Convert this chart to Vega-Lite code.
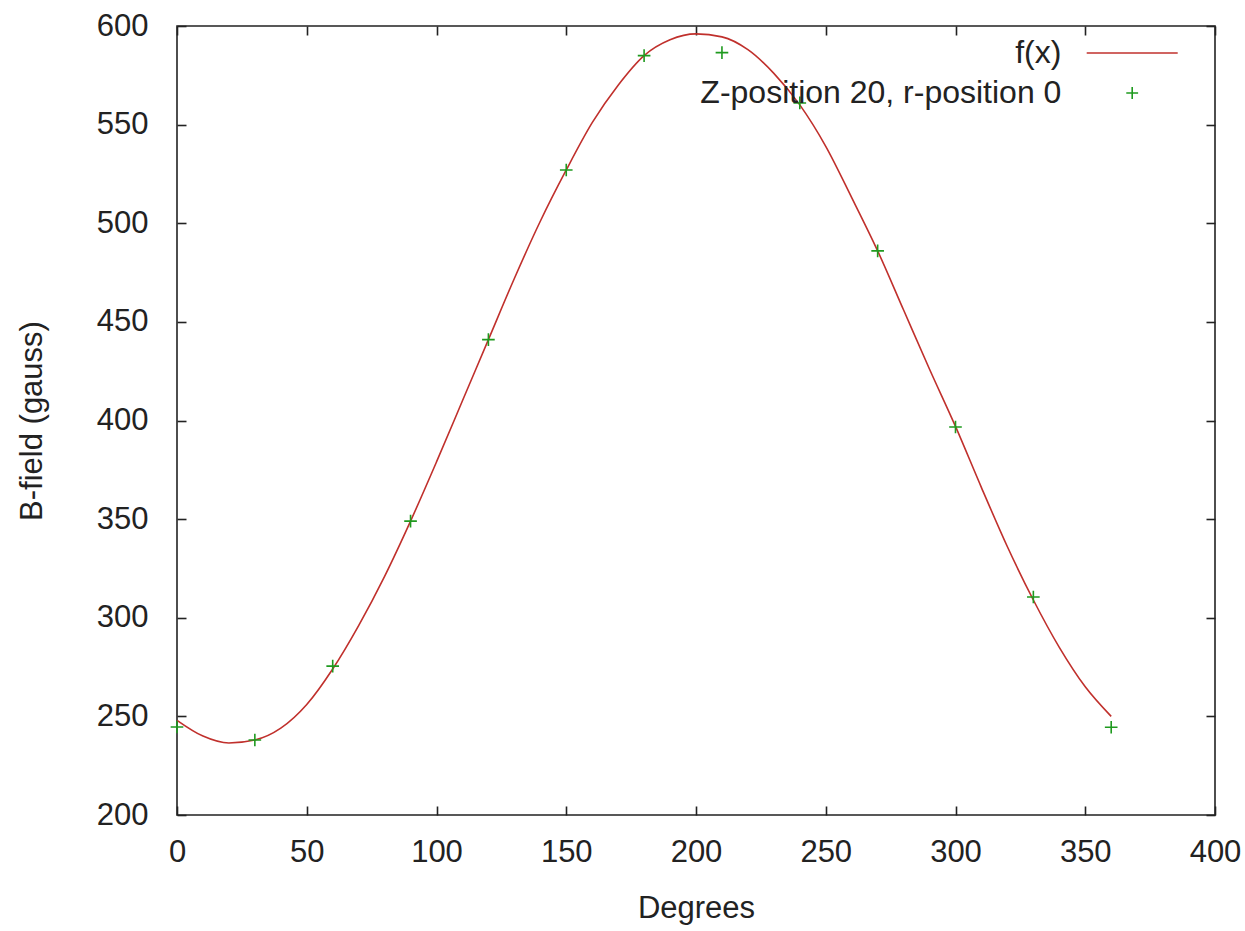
{
  "$schema": "https://vega.github.io/schema/vega-lite/v6.json",
  "width": 1038,
  "height": 789,
  "autosize": {"type": "none"},
  "padding": {"left": 177, "top": 26, "right": 30, "bottom": 116},
  "background": "white",
  "config": {
    "font": "Liberation Sans",
    "view": {"stroke": "#222", "strokeWidth": 1.6},
    "axis": {
      "grid": false,
      "domain": false,
      "tickColor": "#222",
      "tickWidth": 1.6,
      "tickSize": -9,
      "labelFlush": false,
      "labelOverlap": false,
      "labelFont": "Liberation Sans",
      "labelFontSize": 31,
      "labelColor": "#222",
      "titleFont": "Liberation Sans",
      "titleFontSize": 31,
      "titleFontWeight": "normal",
      "titleColor": "#222"
    }
  },
  "datasets": {
    "curve": [
      {"deg": 0, "b": 248, "series": "f(x)"},
      {"deg": 10, "b": 240, "series": "f(x)"},
      {"deg": 20, "b": 236.5, "series": "f(x)"},
      {"deg": 30, "b": 238, "series": "f(x)"},
      {"deg": 40, "b": 244, "series": "f(x)"},
      {"deg": 50, "b": 256, "series": "f(x)"},
      {"deg": 60, "b": 274, "series": "f(x)"},
      {"deg": 70, "b": 296, "series": "f(x)"},
      {"deg": 80, "b": 321, "series": "f(x)"},
      {"deg": 90, "b": 349, "series": "f(x)"},
      {"deg": 100, "b": 379, "series": "f(x)"},
      {"deg": 110, "b": 410, "series": "f(x)"},
      {"deg": 120, "b": 441, "series": "f(x)"},
      {"deg": 130, "b": 472, "series": "f(x)"},
      {"deg": 140, "b": 501, "series": "f(x)"},
      {"deg": 150, "b": 527, "series": "f(x)"},
      {"deg": 160, "b": 551, "series": "f(x)"},
      {"deg": 170, "b": 570, "series": "f(x)"},
      {"deg": 180, "b": 585, "series": "f(x)"},
      {"deg": 190, "b": 593, "series": "f(x)"},
      {"deg": 200, "b": 596, "series": "f(x)"},
      {"deg": 210, "b": 594.5, "series": "f(x)"},
      {"deg": 220, "b": 588, "series": "f(x)"},
      {"deg": 230, "b": 576, "series": "f(x)"},
      {"deg": 240, "b": 560, "series": "f(x)"},
      {"deg": 250, "b": 539, "series": "f(x)"},
      {"deg": 260, "b": 513, "series": "f(x)"},
      {"deg": 270, "b": 486, "series": "f(x)"},
      {"deg": 280, "b": 456, "series": "f(x)"},
      {"deg": 290, "b": 426, "series": "f(x)"},
      {"deg": 300, "b": 397, "series": "f(x)"},
      {"deg": 310, "b": 366, "series": "f(x)"},
      {"deg": 320, "b": 336, "series": "f(x)"},
      {"deg": 330, "b": 309, "series": "f(x)"},
      {"deg": 340, "b": 285, "series": "f(x)"},
      {"deg": 350, "b": 265, "series": "f(x)"},
      {"deg": 360, "b": 250, "series": "f(x)"}
    ],
    "points": [
      {"deg": 0, "b": 244.6, "series": "Z-position 20, r-position 0"},
      {"deg": 30, "b": 238, "series": "Z-position 20, r-position 0"},
      {"deg": 60, "b": 275.5, "series": "Z-position 20, r-position 0"},
      {"deg": 90, "b": 349, "series": "Z-position 20, r-position 0"},
      {"deg": 120, "b": 441, "series": "Z-position 20, r-position 0"},
      {"deg": 150, "b": 527, "series": "Z-position 20, r-position 0"},
      {"deg": 180, "b": 585, "series": "Z-position 20, r-position 0"},
      {"deg": 210, "b": 586.5, "series": "Z-position 20, r-position 0"},
      {"deg": 240, "b": 561, "series": "Z-position 20, r-position 0"},
      {"deg": 270, "b": 486, "series": "Z-position 20, r-position 0"},
      {"deg": 300, "b": 396.7, "series": "Z-position 20, r-position 0"},
      {"deg": 330, "b": 310.5, "series": "Z-position 20, r-position 0"},
      {"deg": 360, "b": 244.5, "series": "Z-position 20, r-position 0"}
    ]
  },
  "layer": [
    {
      "data": {"name": "curve"},
      "mark": {"type": "line", "strokeWidth": 1.6, "interpolate": "monotone"},
      "encoding": {
        "x": {
          "field": "deg", "type": "quantitative",
          "scale": {"domain": [0, 400], "nice": false, "zero": false},
          "axis": {"orient": "bottom", "values": [0, 50, 100, 150, 200, 250, 300, 350, 400], "title": "Degrees", "labelPadding": 31, "titlePadding": 26}
        },
        "y": {
          "field": "b", "type": "quantitative",
          "scale": {"domain": [200, 600], "nice": false, "zero": false},
          "axis": {"orient": "left", "values": [200, 250, 300, 350, 400, 450, 500, 550, 600], "title": "B-field (gauss)", "labelPadding": 38, "titlePadding": 48}
        },
        "color": {
          "field": "series", "type": "nominal",
          "scale": {"domain": ["f(x)", "Z-position 20, r-position 0"], "range": ["#c0302c", "#1f9a1f"]},
          "legend": {
            "orient": "none",
            "legendX": 908.7,
            "legendY": 11,
            "title": null,
            "padding": 0,
            "labelFont": "Liberation Sans",
            "labelFontSize": 32,
            "labelColor": "#222",
            "labelAlign": "right",
            "labelOffset": -117.3,
            "labelLimit": 700,
            "rowPadding": 8,
            "encode": {
              "symbols": {
                "update": {
                  "y": {"value": 16},
                  "shape": {"signal": "datum.value === 'f(x)' ? 'M-1,0H1' : 'M-0.13,0H0.13M0,-0.13V0.13'"},
                  "size": {"value": 8281},
                  "fill": {"value": "transparent"},
                  "stroke": {"scale": "color", "field": "value"},
                  "strokeWidth": {"value": 1.6},
                  "opacity": {"value": 1}
                }
              },
              "labels": {
                "update": {
                  "y": {"value": 16}
                }
              }
            }
          }
        }
      }
    },
    {
      "data": {"name": "points"},
      "mark": {"type": "point", "shape": "M-1,0H1M0,-1V1", "size": 160, "strokeWidth": 1.6, "filled": false, "opacity": 1},
      "encoding": {
        "x": {
          "field": "deg", "type": "quantitative",
          "scale": {"domain": [0, 400], "nice": false, "zero": false},
          "axis": {"orient": "top", "values": [0, 50, 100, 150, 200, 250, 300, 350, 400], "labels": false, "title": null}
        },
        "y": {
          "field": "b", "type": "quantitative",
          "scale": {"domain": [200, 600], "nice": false, "zero": false},
          "axis": {"orient": "right", "values": [200, 250, 300, 350, 400, 450, 500, 550, 600], "labels": false, "title": null}
        },
        "color": {"field": "series", "type": "nominal"}
      }
    }
  ],
  "resolve": {"axis": {"x": "independent", "y": "independent"}}
}
